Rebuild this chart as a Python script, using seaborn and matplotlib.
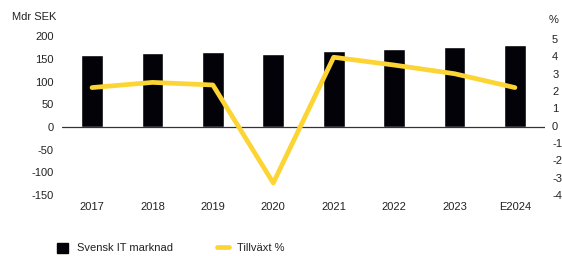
import matplotlib
matplotlib.use("Agg")
import matplotlib.pyplot as plt
import seaborn as sns
import pandas as pd
from matplotlib.patches import Rectangle
from matplotlib.lines import Line2D

years = ["2017", "2018", "2019", "2020", "2021", "2022", "2023", "E2024"]
market = [159, 163, 165, 161, 167, 172, 176, 181]
growth = [2.2, 2.5, 2.35, -3.3, 3.95, 3.5, 3.0, 2.2]

sns.set_theme(style="white")
plt.rcParams['font.family'] = ['Liberation Sans', 'DejaVu Sans']
plt.rcParams['axes.unicode_minus'] = False

BAR = "#020208"
YEL = "#FCD535"
TXT = "#222222"

df = pd.DataFrame({"year": years, "market": market, "growth": growth})

fig = plt.figure(figsize=(5.62, 2.56), dpi=100)
ax = fig.add_axes([0.110, 0.238, 0.860, 0.621])
sns.barplot(data=df, x="year", y="market", color=BAR, width=0.36,
            saturation=1, ax=ax)
ax.set_xlim(-0.5, 7.5)
ax.set_ylim(-150, 200)
ax.set_yticks([-150, -100, -50, 0, 50, 100, 150, 200])
ax.axhline(0, color="#333333", lw=0.9, zorder=1)
for s in ax.spines.values():
    s.set_visible(False)
ax.set_xlabel("")
ax.set_ylabel("")
ax.tick_params(axis="y", labelsize=8, colors=TXT, pad=6, length=0)
ax.tick_params(axis="x", labelsize=8, colors=TXT, pad=5, length=0)

ax2 = ax.twinx()
sns.lineplot(x=list(range(len(years))), y=growth, color=YEL, lw=3.4,
             ax=ax2, solid_joinstyle="round", solid_capstyle="round")
ax2.set_ylim(-3.97, 5.17)
ax2.set_yticks([-4, -3, -2, -1, 0, 1, 2, 3, 4, 5])
for s in ax2.spines.values():
    s.set_visible(False)
ax2.tick_params(axis="y", labelsize=8, colors=TXT, pad=5, length=0)
ax2.set_ylabel("")

fig.text(12/562, 1 - 17/256, "Mdr SEK", fontsize=8, color=TXT, va="center", ha="left")
fig.text(549/562, 1 - 20/256, "%", fontsize=8, color=TXT, va="center", ha="left")

handles = [Rectangle((0, 0), 1, 1, color=BAR),
           Line2D([0], [0], color=YEL, lw=3.4, solid_capstyle="round")]
fig.legend(handles, ["Svensk IT marknad", "Tillväxt %"], loc="center left",
           bbox_to_anchor=(47/562, 1 - 248/256), ncol=2, frameon=False,
           fontsize=8, handlelength=1.0, handleheight=1.0, columnspacing=4.0,
           handletextpad=0.8, labelcolor=TXT)

fig.savefig("out.png", dpi=100)
